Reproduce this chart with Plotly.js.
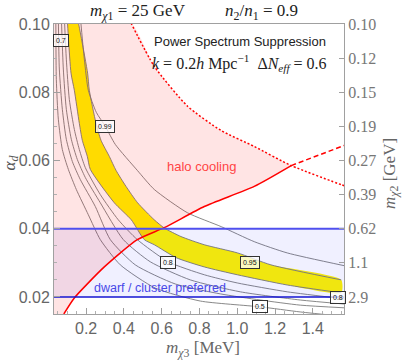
<!DOCTYPE html>
<html>
<head>
<meta charset="utf-8">
<script src="https://cdn.plot.ly/plotly-3.0.1.min.js"></script>
<style>body{margin:0;background:#fff}#plot{width:403px;height:361px}</style>
</head>
<body>
<div id="plot"></div>
<script>
// axis ranges (m_chi3 in MeV, alpha_d)
var xMin = 0.03, xMax = 1.565, yMin = 0.015, yMax = 0.1;

// right axis: m_chi2 [GeV] labels at alpha_d values
var rightVals = [0.02, 0.03, 0.04, 0.05, 0.06, 0.07, 0.08, 0.09, 0.10];
var rightText = ["2.9", "1.1", "0.62", "0.39", "0.27", "0.19", "0.15", "0.12", "0.10"];

// yellow band, lower-left edge and upper-right edge
var bandLoX = [0.0995, 0.1201, 0.1376, 0.1640, 0.1799, 0.2063, 0.2222, 0.3492, 0.4392, 0.5079, 0.5608, 0.6772, 0.8254, 1.0000, 1.2646, 1.5503];
var bandLoY = [0.1021, 0.0856, 0.0806, 0.0709, 0.0659, 0.0612, 0.0574, 0.0476, 0.0426, 0.0368, 0.0353, 0.0315, 0.0288, 0.0265, 0.0235, 0.0212];
var bandHiX = [0.1534, 0.2079, 0.2169, 0.2524, 0.2788, 0.3228, 0.3582, 0.4111, 0.4725, 0.5608, 0.6138, 0.7021, 0.8254, 1.0016, 1.1783, 1.5503];
var bandHiY = [0.1021, 0.0856, 0.0806, 0.0709, 0.0659, 0.0612, 0.0571, 0.0524, 0.0476, 0.0426, 0.0402, 0.0377, 0.0353, 0.0329, 0.0294, 0.0250];

// gray contour lines
var c80X = [0.0847, 0.0952, 0.1111, 0.1376, 0.1640, 0.1958, 0.2751, 0.3704, 0.4709, 0.6349, 0.8254, 1.0000, 1.2646, 1.5714];
var c80Y = [0.1021, 0.0897, 0.0779, 0.0691, 0.0632, 0.0579, 0.0500, 0.0426, 0.0368, 0.0303, 0.0265, 0.0241, 0.0215, 0.0194];
var c70X = [0.0688, 0.0794, 0.0952, 0.1217, 0.1534, 0.1958, 0.2751, 0.3968, 0.5397, 0.7513, 1.0159, 1.3333, 1.5714];
var c70Y = [0.1021, 0.0868, 0.0750, 0.0662, 0.0603, 0.0550, 0.0476, 0.0368, 0.0303, 0.0250, 0.0215, 0.0191, 0.0179];
var c60X = [0.0529, 0.0582, 0.0741, 0.0952, 0.1270, 0.1693, 0.2487, 0.3280, 0.4603, 0.6720, 0.9101, 1.1217, 1.3333, 1.5714];
var c60Y = [0.1021, 0.0868, 0.0750, 0.0662, 0.0597, 0.0544, 0.0465, 0.0368, 0.0294, 0.0238, 0.0209, 0.0191, 0.0176, 0.0168];
var c50X = [0.0397, 0.0423, 0.0529, 0.0741, 0.1058, 0.1481, 0.2116, 0.2751, 0.3810, 0.5661, 0.8042, 1.1217, 1.3333, 1.5450];
var c50Y = [0.1021, 0.0838, 0.0721, 0.0632, 0.0574, 0.0515, 0.0441, 0.0368, 0.0294, 0.0226, 0.0188, 0.0171, 0.0156, 0.0144];
var c99X = [0.1693, 0.1905, 0.2116, 0.2540, 0.3016, 0.3545, 0.4709, 0.5608, 0.7354, 0.9153, 1.0899, 1.2646, 1.5714];
var c99Y = [0.1021, 0.0897, 0.0806, 0.0741, 0.0700, 0.0647, 0.0571, 0.0515, 0.0447, 0.0406, 0.0362, 0.0329, 0.0291];

// contour labels
var labX = [0.0688, 0.3016, 0.6323, 1.0661, 1.1217, 1.5344];
var labY = [0.0951, 0.0699, 0.0301, 0.0300, 0.0172, 0.0199];
var labText = ["0.7", "0.99", "0.8", "0.95", "0.5", "0.8"];

// red lines: cooling bound (solid, then dashed) and halo cooling edge (dotted)
var coolX = [0.082, 0.1376, 0.2963, 0.4709, 0.6138, 0.8254, 1.0899, 1.2857];
var coolY = [0.0150, 0.0197, 0.0288, 0.0368, 0.0403, 0.0465, 0.0524, 0.0585];
var coolDashX = [1.2857, 1.423, 1.5661];
var coolDashY = [0.0585, 0.0615, 0.0644];
var haloX = [0.4376, 0.5608, 0.737, 0.9138, 1.0899, 1.2857, 1.5503, 1.566];
var haloY = [0.1003, 0.0876, 0.0759, 0.0688, 0.0641, 0.0585, 0.0529, 0.0526];

// dwarf / cluster preferred band
var dwarfLo = 0.02, dwarfHi = 0.04;

function grayLine(x, y) {
  return {x: x, y: y, mode: "lines", line: {color: "#7a7a7a", width: 0.9, shape: "spline", smoothing: 0.6}, hoverinfo: "skip"};
}

// pink region: under the dotted curve, above/left of the solid cooling line
var pinkX = [xMin - 0.1].concat(haloX.slice(0, 6), coolX.slice().reverse(), [xMin - 0.1]);
var pinkY = [yMax + 0.01].concat(haloY.slice(0, 6), coolY.slice().reverse(), [yMin - 0.01]);

var traces = [
  {x: bandLoX.concat(bandHiX.slice().reverse()), y: bandLoY.concat(bandHiY.slice().reverse()),
   mode: "lines", fill: "toself", fillcolor: "rgb(255,245,0)", line: {width: 0, shape: "spline", smoothing: 0.6}, hoverinfo: "skip"},
  grayLine(bandLoX, bandLoY),
  grayLine(bandHiX, bandHiY),
  grayLine(c80X, c80Y),
  grayLine(c70X, c70Y),
  grayLine(c60X, c60Y),
  grayLine(c50X, c50Y),
  grayLine(c99X, c99Y),
  {x: [xMin, xMax, xMax, xMin], y: [dwarfLo, dwarfLo, dwarfHi, dwarfHi], mode: "lines", fill: "toself",
   fillcolor: "rgba(0,0,255,0.06)", line: {width: 0}, hoverinfo: "skip"},
  {x: pinkX, y: pinkY, mode: "lines", fill: "toself", fillcolor: "rgba(255,0,0,0.105)",
   line: {width: 0, shape: "spline", smoothing: 0.6}, hoverinfo: "skip"},
  {x: coolX, y: coolY, mode: "lines", line: {color: "#ff0000", width: 1.5, shape: "spline", smoothing: 0.6}},
  {x: coolDashX, y: coolDashY, mode: "lines", line: {color: "#ff0000", width: 1.5, dash: "5px,3px"}},
  {x: haloX, y: haloY, mode: "lines", line: {color: "#ff0000", width: 1.5, dash: "2px,2px", shape: "spline", smoothing: 0.6}},
  {x: [xMin, xMax], y: [dwarfHi, dwarfHi], mode: "lines", line: {color: "#5050ee", width: 2}},
  {x: [xMin, xMax], y: [dwarfLo, dwarfLo], mode: "lines", line: {color: "#1414d2", width: 1.5}},
  // invisible trace so the right axis is drawn
  {x: [xMin], y: [yMin], yaxis: "y2", mode: "markers", marker: {opacity: 0}, hoverinfo: "skip"}
];

var serif = "Liberation Serif, Times New Roman, serif";
var sans = "Liberation Sans, Arial, sans-serif";

var annotations = labText.map(function (t, i) {
  return {x: labX[i], y: labY[i], xref: "x", yref: "y", text: t, showarrow: false,
    xanchor: "center", yanchor: "middle",
    font: {family: sans, size: 7, color: "#111"}, bgcolor: "rgba(255,255,255,0.75)",
    bordercolor: "#333", borderwidth: 1, borderpad: 2};
});

function note(x, y, text, font, angle) {
  return {x: x, y: y, xref: "paper", yref: "paper", text: text, showarrow: false,
    xanchor: "center", yanchor: "middle", textangle: angle || 0, font: font};
}

annotations.push(
  note(0.29, 1.041, "<i>m</i><sub><i>χ</i>1</sub> = 25 GeV", {family: serif, size: 17, color: "#222"}),
  note(0.714, 1.041, "<i>n</i><sub>2</sub>/<i>n</i><sub>1</sub> = 0.9", {family: serif, size: 17, color: "#222"}),
  note(0.641, 0.938, "Power Spectrum Suppression", {family: sans, size: 13, color: "#222"}),
  note(0.641, 0.866, "<i>k</i> = 0.2<i>h</i> Mpc<sup>−1</sup>  Δ<i>N</i><sub><i>eff</i></sub> = 0.6",
       {family: serif, size: 16, color: "#222"}),
  note(0.51, 0.507, "halo cooling", {family: sans, size: 13, color: "#ff4444"}),
  note(0.366, 0.09, "dwarf / cluster preferred", {family: sans, size: 12.5, color: "#4848e8"}),
  note(-0.15, 0.521, "<i>α<sub>d</sub></i>", {family: serif, size: 17, color: "#555"}, -90),
  note(0.514, -0.121, "<i>m</i><sub><i>χ</i>3</sub> [MeV]", {family: serif, size: 17, color: "#666"}),
  note(1.162, 0.486, "<i>m</i><sub><i>χ</i>2</sub> [GeV]", {family: serif, size: 17, color: "#666"}, -90)
);

var layout = {
  width: 403, height: 361,
  margin: {l: 54, r: 59, t: 24, b: 47},
  paper_bgcolor: "#fff", plot_bgcolor: "#fff",
  showlegend: false,
  xaxis: {range: [xMin, xMax], dtick: 0.2, tick0: 0, tickformat: ".1f", showgrid: false, zeroline: false,
    showline: true, linecolor: "#a0a0a0", linewidth: 1, mirror: true,
    ticks: "inside", ticklen: 6, tickcolor: "#a0a0a0",
    minor: {dtick: 0.05, tick0: 0, ticks: "inside", ticklen: 3, tickcolor: "#b0b0b0"},
    tickfont: {family: sans, size: 16, color: "#666"}},
  yaxis: {range: [yMin, yMax], dtick: 0.02, tick0: 0, tickformat: ".2f", showgrid: false, zeroline: false,
    showline: true, linecolor: "#a0a0a0", linewidth: 1,
    ticks: "inside", ticklen: 6, tickcolor: "#a0a0a0",
    minor: {dtick: 0.005, tick0: 0, ticks: "inside", ticklen: 3, tickcolor: "#b0b0b0"},
    tickfont: {family: sans, size: 16, color: "#666"}},
  yaxis2: {range: [yMin, yMax], overlaying: "y", side: "right", showgrid: false, zeroline: false,
    showline: true, linecolor: "#a0a0a0", linewidth: 1,
    tickmode: "array", tickvals: rightVals, ticktext: rightText,
    ticks: "inside", ticklen: 5, tickcolor: "#a0a0a0",
    tickfont: {family: serif, size: 16, color: "#777"}},
  annotations: annotations
};

Plotly.newPlot("plot", traces, layout, {staticPlot: true});
</script>
</body>
</html>
